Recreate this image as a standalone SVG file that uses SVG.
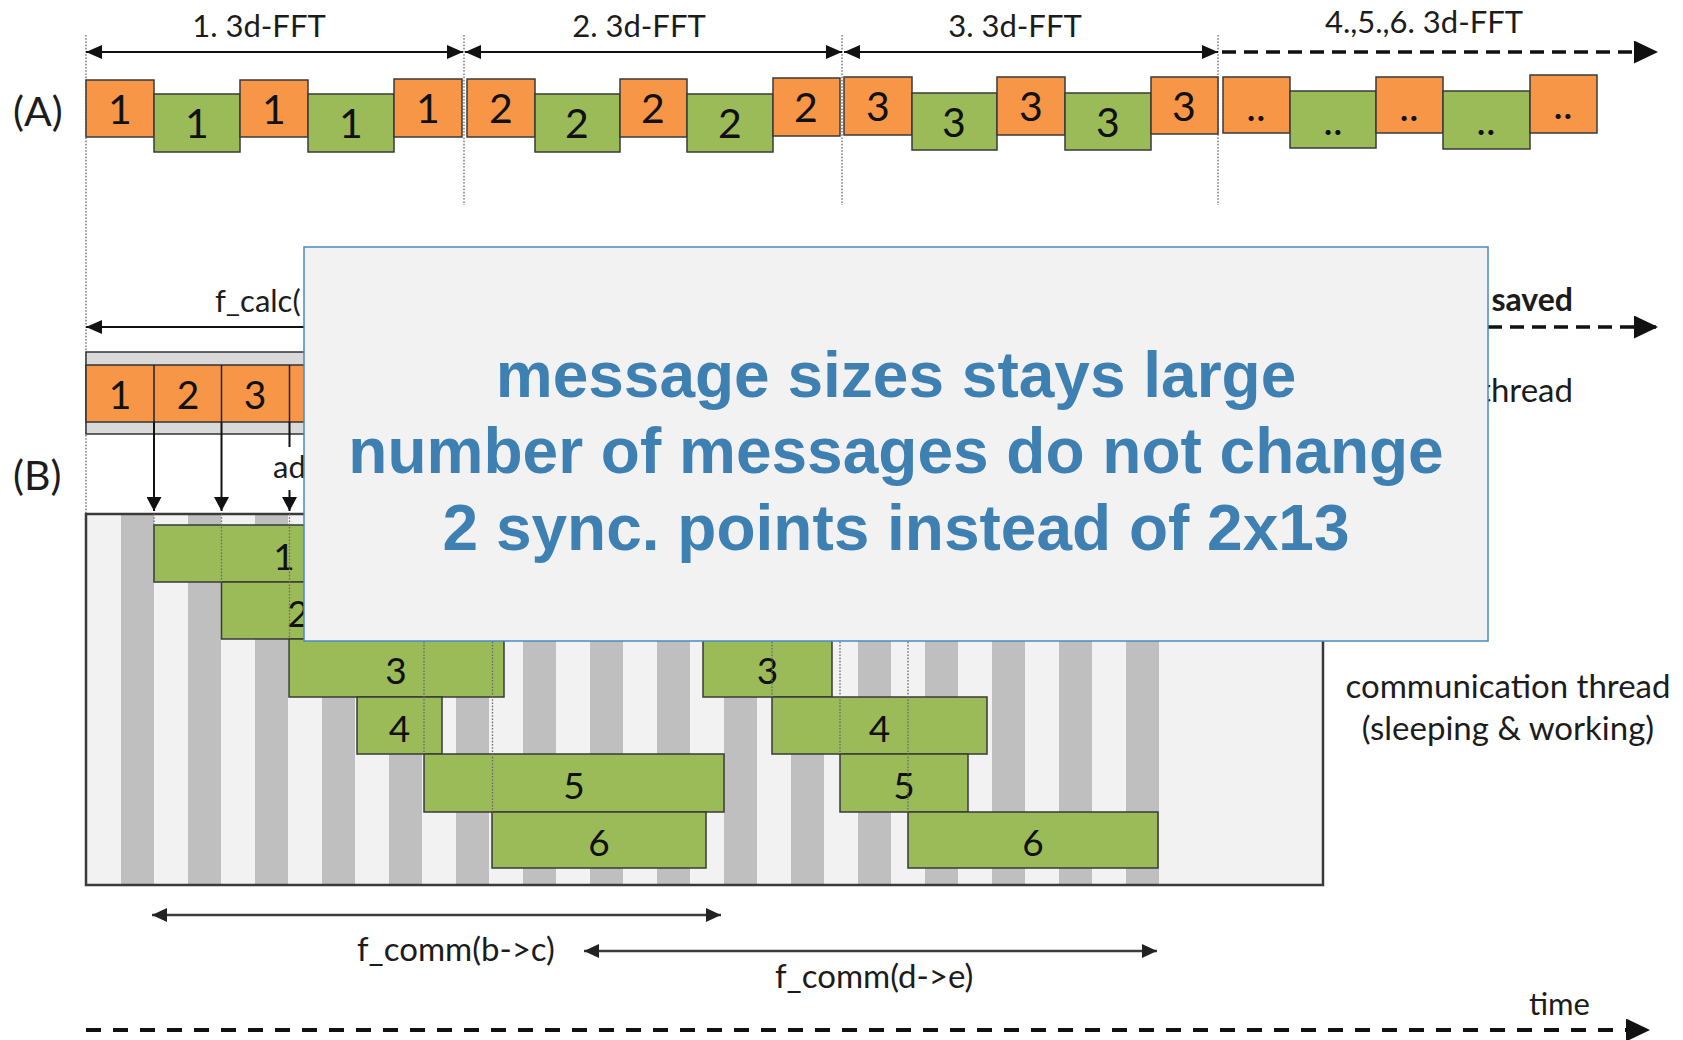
<svg xmlns="http://www.w3.org/2000/svg" width="1683" height="1040" viewBox="0 0 1683 1040">
  <defs>
    <style>
      .lbl{font-family:Lato,"Liberation Sans",sans-serif;font-size:31px;fill:#1c1c1c}
      .wide{font-size:33px}
      .bold{font-weight:bold}
      .tag{font-family:Lato,"Liberation Sans",sans-serif;font-size:41px;fill:#1c1c1c}
      .dig{font-family:Lato,"Liberation Sans",sans-serif;font-size:41px;fill:#111;text-anchor:middle}
      .dig2{font-family:Lato,"Liberation Sans",sans-serif;font-size:37px;fill:#111;text-anchor:middle}
      .or{fill:#f79646;stroke:#3a3a3a;stroke-width:1.5}
      .gr{fill:#9bbb59;stroke:#3a3a3a;stroke-width:1.5}
      .dot{stroke:#6a6a6a;stroke-width:1.3;stroke-dasharray:1.6 1.6;fill:none}
      .arr{stroke:#111;stroke-width:2;fill:none}
      .arr2{stroke:#3c3c3c;stroke-width:2.5;fill:none}
      .dash{stroke:#111;stroke-width:3.5;stroke-dasharray:14 8;fill:none}
      .dash2{stroke:#111;stroke-width:4;stroke-dasharray:15 12;fill:none}
      .stripe{fill:#bfbfbf}
      .note{font-family:"Liberation Sans",Arial,sans-serif;font-weight:bold;font-size:64px;fill:#3f80b3;text-anchor:middle}
    </style>
    <marker id="ah" viewBox="0 0 16 14" markerWidth="16" markerHeight="14" refX="16" refY="7" orient="auto-start-reverse" markerUnits="userSpaceOnUse">
      <path d="M0,0 L16,7 L0,14 z" fill="#111"/>
    </marker>
    <marker id="ahBig" viewBox="0 0 24 23" markerWidth="24" markerHeight="23" refX="24" refY="11.5" orient="auto" markerUnits="userSpaceOnUse">
      <path d="M0,0 L24,11.5 L0,23 z" fill="#111"/>
    </marker>
    <marker id="ahSmall" viewBox="0 0 15 15" markerWidth="15" markerHeight="15" refX="14" refY="7.5" orient="auto" markerUnits="userSpaceOnUse">
      <path d="M0,0 L14,7.5 L0,15 z" fill="#111"/>
    </marker>
    <marker id="ahGrey" viewBox="0 0 15 14" markerWidth="15" markerHeight="14" refX="15" refY="7" orient="auto-start-reverse" markerUnits="userSpaceOnUse">
      <path d="M0,0 L15,7 L0,14 z" fill="#222"/>
    </marker>
  </defs>

  <rect x="0" y="0" width="1683" height="1040" fill="#ffffff"/>

  <!-- row labels -->
  <text class="tag" x="13" y="126">(A)</text>
  <text class="tag" x="13" y="490">(B)</text>

  <!-- guide lines (dotted) -->
  <g id="guides">
    <line class="dot" x1="86" y1="35" x2="86" y2="514"/>
    <line class="dot" x1="464" y1="35" x2="464" y2="205"/>
    <line class="dot" x1="842" y1="35" x2="842" y2="205"/>
    <line class="dot" x1="1218" y1="35" x2="1218" y2="205"/>
  </g>

  <!-- phase labels -->
  <g id="phase-labels">
    <text class="lbl" x="259" y="37" text-anchor="middle">1. 3d-FFT</text>
    <text class="lbl" x="639" y="37" text-anchor="middle">2. 3d-FFT</text>
    <text class="lbl" x="1015" y="37" text-anchor="middle">3. 3d-FFT</text>
    <text class="lbl" x="1424" y="33" text-anchor="middle">4.,5.,6. 3d-FFT</text>
  </g>

  <!-- (A): sequential calculation / communication blocks -->
  <g id="seq-a">
    <g id="a-o1"><rect class="or" x="86" y="80" width="68" height="57"/><text class="dig" x="120" y="124">1</text></g>
    <g id="a-g1"><rect class="gr" x="154" y="94" width="86" height="58"/><text class="dig" x="197" y="138">1</text></g>
    <g id="a-o2"><rect class="or" x="240" y="80" width="68" height="57"/><text class="dig" x="274" y="124">1</text></g>
    <g id="a-g2"><rect class="gr" x="308" y="94" width="86" height="58"/><text class="dig" x="351" y="138">1</text></g>
    <g id="a-o3"><rect class="or" x="394" y="79" width="68" height="58"/><text class="dig" x="428" y="123">1</text></g>

    <g id="a-o4"><rect class="or" x="467" y="79" width="68" height="58"/><text class="dig" x="501" y="123">2</text></g>
    <g id="a-g3"><rect class="gr" x="535" y="94" width="85" height="58"/><text class="dig" x="577" y="138">2</text></g>
    <g id="a-o5"><rect class="or" x="620" y="79" width="67" height="58"/><text class="dig" x="653" y="123">2</text></g>
    <g id="a-g4"><rect class="gr" x="687" y="94" width="86" height="58"/><text class="dig" x="730" y="138">2</text></g>
    <g id="a-o6"><rect class="or" x="773" y="78" width="67" height="58"/><text class="dig" x="806" y="122">2</text></g>

    <g id="a-o7"><rect class="or" x="844" y="77" width="68" height="58"/><text class="dig" x="878" y="121">3</text></g>
    <g id="a-g5"><rect class="gr" x="912" y="93" width="85" height="57"/><text class="dig" x="954" y="137">3</text></g>
    <g id="a-o8"><rect class="or" x="997" y="77" width="68" height="58"/><text class="dig" x="1031" y="121">3</text></g>
    <g id="a-g6"><rect class="gr" x="1065" y="93" width="86" height="57"/><text class="dig" x="1108" y="137">3</text></g>
    <g id="a-o9"><rect class="or" x="1151" y="77" width="67" height="57"/><text class="dig" x="1184" y="121">3</text></g>

    <g id="a-o10"><rect class="or" x="1223" y="77" width="67" height="56"/><text class="dig" x="1256" y="121">..</text></g>
    <g id="a-g7"><rect class="gr" x="1290" y="91" width="86" height="57"/><text class="dig" x="1333" y="135">..</text></g>
    <g id="a-o11"><rect class="or" x="1376" y="77" width="67" height="56"/><text class="dig" x="1409" y="121">..</text></g>
    <g id="a-g8"><rect class="gr" x="1443" y="91" width="87" height="58"/><text class="dig" x="1486" y="135">..</text></g>
    <g id="a-o12"><rect class="or" x="1530" y="75" width="67" height="58"/><text class="dig" x="1563" y="119">..</text></g>
  </g>

  <!-- (B): computation thread -->
  <text class="lbl" x="215" y="312">f_calc(</text>
  <text class="lbl bold" x="1573" y="311" text-anchor="end" style="font-size:32px">saved</text>
  <text class="lbl wide" x="1573" y="402" text-anchor="end">thread</text>

  <g id="comp-thread">
    <rect x="86" y="352" width="1314" height="82" fill="#d9d9d9" stroke="#333" stroke-width="1.5"/>
    <rect x="86" y="365" width="1314" height="57" fill="#f79646" stroke="#333" stroke-width="1.5"/>
    <line x1="154" y1="365" x2="154" y2="422" stroke="#222" stroke-width="1.5"/>
    <line x1="221.5" y1="365" x2="221.5" y2="422" stroke="#222" stroke-width="1.5"/>
    <line x1="289.5" y1="365" x2="289.5" y2="422" stroke="#222" stroke-width="1.5"/>
    <text class="dig" x="120" y="409" style="font-size:39px">1</text>
    <text class="dig" x="188" y="409" style="font-size:39px">2</text>
    <text class="dig" x="255" y="409" style="font-size:39px">3</text>
  </g>

  <!-- (B): communication thread -->
  <g id="comm-thread">
    <rect x="86" y="514" width="1237" height="371" fill="#f2f2f2"/>
    <g id="stripes">
      <rect class="stripe" x="121" y="514" width="33" height="371"/>
      <rect class="stripe" x="188" y="514" width="33" height="371"/>
      <rect class="stripe" x="255" y="514" width="33" height="371"/>
      <rect class="stripe" x="322" y="514" width="33" height="371"/>
      <rect class="stripe" x="389" y="514" width="33" height="371"/>
      <rect class="stripe" x="456" y="514" width="33" height="371"/>
      <rect class="stripe" x="523" y="514" width="33" height="371"/>
      <rect class="stripe" x="590" y="514" width="33" height="371"/>
      <rect class="stripe" x="657" y="514" width="33" height="371"/>
      <rect class="stripe" x="724" y="514" width="33" height="371"/>
      <rect class="stripe" x="791" y="514" width="33" height="371"/>
      <rect class="stripe" x="858" y="514" width="33" height="371"/>
      <rect class="stripe" x="925" y="514" width="33" height="371"/>
      <rect class="stripe" x="992" y="514" width="33" height="371"/>
      <rect class="stripe" x="1059" y="514" width="33" height="371"/>
      <rect class="stripe" x="1126" y="514" width="33" height="371"/>
    </g>
    <rect x="86" y="514" width="1237" height="371" fill="none" stroke="#3a3a3a" stroke-width="2.5"/>

    <g id="m1"><rect class="gr" x="154" y="525" width="260" height="57"/><text class="dig2" x="284" y="570">1</text></g>
    <g id="m2"><rect class="gr" x="221.5" y="582" width="153" height="57"/><text class="dig2" x="298" y="627">2</text></g>
    <g id="m3"><rect class="gr" x="289" y="639" width="215" height="58"/><text class="dig2" x="396" y="684">3</text></g>
    <g id="m4"><rect class="gr" x="357" y="697" width="85" height="57"/><text class="dig2" x="399.5" y="742">4</text></g>
    <g id="m5"><rect class="gr" x="424" y="754" width="300" height="58"/><text class="dig2" x="574" y="799">5</text></g>
    <g id="m6"><rect class="gr" x="492" y="812" width="214" height="56"/><text class="dig2" x="599" y="856">6</text></g>

    <g id="n3"><rect class="gr" x="703" y="600" width="129" height="97"/><text class="dig2" x="767.5" y="684">3</text></g>
    <g id="n4"><rect class="gr" x="772" y="697" width="215" height="57"/><text class="dig2" x="879.5" y="742">4</text></g>
    <g id="n5"><rect class="gr" x="840" y="754" width="128" height="58"/><text class="dig2" x="904" y="799">5</text></g>
    <g id="n6"><rect class="gr" x="908" y="812" width="250" height="56"/><text class="dig2" x="1033" y="856">6</text></g>

    <g id="start-marks">
      <line class="dot" x1="154" y1="514" x2="154" y2="525"/>
      <line class="dot" x1="221.5" y1="514" x2="221.5" y2="582"/>
      <line class="dot" x1="289.5" y1="514" x2="289.5" y2="639"/>
      <line class="dot" x1="424" y1="600" x2="424" y2="754"/>
      <line class="dot" x1="492.5" y1="600" x2="492.5" y2="812"/>
      <line class="dot" x1="772" y1="600" x2="772" y2="697"/>
      <line class="dot" x1="840" y1="600" x2="840" y2="754"/>
      <line class="dot" x1="908" y1="600" x2="908" y2="812"/>
    </g>
  </g>

  <text class="lbl wide" x="1508" y="698" text-anchor="middle">communication thread</text>
  <text class="lbl wide" x="1508" y="740" text-anchor="middle">(sleeping &amp; working)</text>

  <!-- connectors -->
  <g id="connectors">
    <line class="arr" x1="86" y1="52" x2="463" y2="52" marker-start="url(#ah)" marker-end="url(#ah)"/>
    <line class="arr" x1="465" y1="52" x2="842" y2="52" marker-start="url(#ah)" marker-end="url(#ah)"/>
    <line class="arr" x1="844" y1="52" x2="1218" y2="52" marker-start="url(#ah)" marker-end="url(#ah)"/>
    <line class="dash" x1="1222" y1="52" x2="1658" y2="52" marker-end="url(#ahBig)"/>

    <line class="arr" x1="86" y1="327" x2="1400" y2="327" marker-start="url(#ah)"/>
    <line class="dash" x1="1400" y1="327" x2="1658" y2="327" marker-end="url(#ahBig)"/>

    <line class="arr" x1="154" y1="422" x2="154" y2="511" marker-end="url(#ahSmall)"/>
    <line class="arr" x1="221.5" y1="422" x2="221.5" y2="511" marker-end="url(#ahSmall)"/>
    <line class="arr" x1="289.5" y1="422" x2="289.5" y2="511" marker-end="url(#ahSmall)"/>

    <line class="arr2" x1="152" y1="915" x2="721" y2="915" marker-start="url(#ahGrey)" marker-end="url(#ahGrey)"/>
    <line class="arr2" x1="584" y1="951" x2="1157" y2="951" marker-start="url(#ahGrey)" marker-end="url(#ahGrey)"/>

    <line class="dash2" x1="86" y1="1030" x2="1650" y2="1030" marker-end="url(#ahBig)"/>
  </g>

  <!-- label over the third send arrow -->
  <rect x="266" y="447" width="38" height="43" fill="#ffffff"/>
  <text class="lbl" x="273" y="478">ad</text>

  <g id="bottom-labels">
    <text class="lbl wide" x="357" y="961">f_comm(b-&gt;c)</text>
    <text class="lbl wide" x="775" y="988">f_comm(d-&gt;e)</text>
    <text class="lbl" x="1529" y="1015">time</text>
  </g>

  <!-- callout -->
  <g id="callout">
    <rect x="304" y="247" width="1184" height="394" fill="#f2f2f2" stroke="#4a8ac4" stroke-width="1.5"/>
    <text class="note" x="896" y="397">message sizes stays large</text>
    <text class="note" x="896" y="473">number of messages do not change</text>
    <text class="note" x="896" y="550">2 sync. points instead of 2x13</text>
  </g>
</svg>
